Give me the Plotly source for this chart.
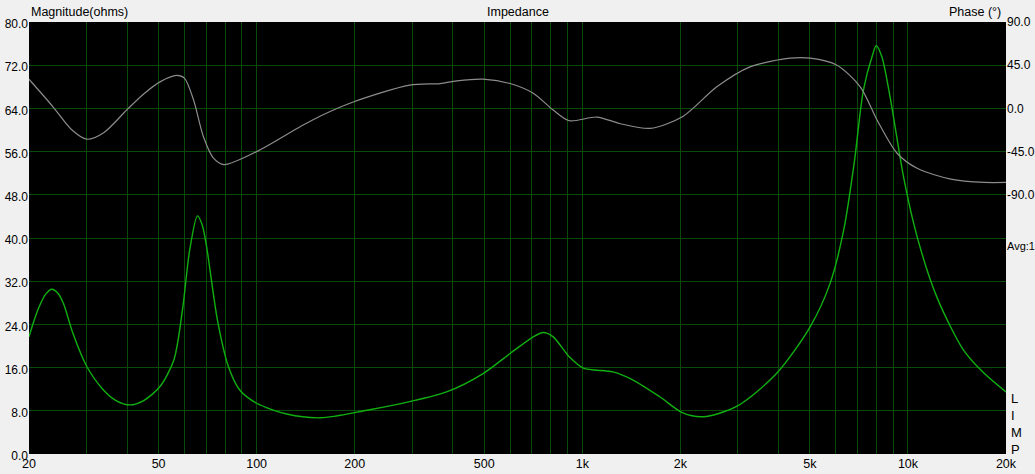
import plotly.graph_objects as go

# Magnitude (ohms) curve
mag_freq = [20, 20.6, 21.5, 22.5, 23.5, 24.5, 25.5, 27.3, 30.1, 33.8, 37, 40.8, 45, 50.5,
            55.7, 59.2, 62.3, 65.8, 68, 70.2, 75.8, 81.9, 88.6, 100, 123.8, 157, 218, 295,
            383, 496, 600, 707, 759, 814, 912, 1008, 1242, 1432, 1730, 2036, 2352, 2976,
            3948, 5012, 5766, 6350, 6834, 7298, 7784, 7990, 8310, 8808, 9736, 10672,
            12258, 14792, 17170, 20000]
mag_ohms = [21.7, 24.2, 27.3, 29.6, 30.5, 29.8, 27.9, 22.3, 16.2, 11.9, 9.9, 9.1, 9.9, 12.5,
            17.4, 26.7, 37.8, 44.1, 42.5, 38.4, 24.8, 16.2, 11.9, 9.4, 7.4, 6.7, 8.1, 9.7,
            11.5, 14.9, 18.6, 21.7, 22.5, 21.7, 18.0, 15.9, 15.2, 13.7, 10.6, 7.6, 6.9,
            8.8, 14.9, 23.6, 31.6, 41.5, 53.8, 67.4, 73.9, 75.6, 73.6, 66.2, 50.7, 40.2,
            29.1, 19.3, 14.9, 11.5]

# Phase (degrees) curve
phase_freq = [20, 23.7, 27, 30.1, 34, 39.9, 45, 50.5, 56.8, 60, 64, 68.6, 73.7, 79.5, 100,
              136, 157, 198, 295, 366, 412, 496, 600, 707, 814, 912, 1108, 1302, 1616,
              2036, 2588, 3274, 4350, 5012, 6054, 7138, 8028, 9256, 10672, 13550, 17170,
              20000]
phase_deg = [30.4, 1.7, -22.0, -32.1, -25.0, -1.7, 15.0, 27.6, 34.3, 31.5, 9.0, -29.2,
             -51.7, -58.5, -45.0, -19.1, -7.9, 6.7, 24.2, 25.9, 28.7, 30.4, 25.9, 15.8,
             -1.7, -12.9, -9.0, -15.7, -20.8, -8.4, 22.5, 43.3, 52.3, 52.3, 45.0, 22.5,
             -11.8, -46.7, -62.4, -73.7, -77.1, -77.1]

x_grid = [20, 30, 40, 50, 60, 70, 80, 90, 100, 200, 300, 400, 500, 600, 700, 800, 900,
          1000, 2000, 3000, 4000, 5000, 6000, 7000, 8000, 9000, 10000, 20000]
x_labels = {20: "20", 50: "50", 100: "100", 200: "200", 500: "500", 1000: "1k",
            2000: "2k", 5000: "5k", 10000: "10k", 20000: "20k"}
x_text = [x_labels.get(v, "") for v in x_grid]

y_ticks = [0, 8, 16, 24, 32, 40, 48, 56, 64, 72, 80]
phase_ticks = [-90, -45, 0, 45, 90]

FONT = "Liberation Sans, Arial, sans-serif"
GRID = "#0a4a0a"

fig = go.Figure()
fig.add_trace(go.Scatter(x=phase_freq, y=phase_deg, mode="lines", yaxis="y2",
                         line=dict(color="#8c8c8c", width=1.2, shape="spline", smoothing=0.8),
                         hoverinfo="skip", showlegend=False))
fig.add_trace(go.Scatter(x=mag_freq, y=mag_ohms, mode="lines",
                         line=dict(color="#10b010", width=1.4, shape="spline", smoothing=0.8),
                         hoverinfo="skip", showlegend=False))

fig.update_layout(
    template="none",
    width=1035, height=474,
    margin=dict(l=29, r=29, t=22, b=20, autoexpand=False),
    paper_bgcolor="#f0f0f0",
    plot_bgcolor="#000000",
    font=dict(family=FONT, size=12.5, color="#000000"),
    xaxis=dict(type="log", range=[1.30103, 4.30103], tickvals=x_grid, ticktext=x_text,
               showgrid=True, gridcolor=GRID, gridwidth=1, zeroline=False, automargin=False,
               ticks="", showline=False, tickfont=dict(size=12.5)),
    yaxis=dict(range=[0, 80], tickvals=y_ticks, ticktext=[f"{v:.1f}" for v in y_ticks],
               showgrid=True, gridcolor=GRID, gridwidth=1, zeroline=False, automargin=False,
               ticks="", showline=False, tickfont=dict(size=12), ticklabelshift=2),
    yaxis2=dict(range=[-360, 90], overlaying="y", side="right", tickvals=phase_ticks,
                ticktext=[f"{v:.1f}" for v in phase_ticks], showgrid=False, automargin=False,
                zeroline=False, ticks="", showline=False, tickfont=dict(size=12)),
    annotations=[
        dict(text="Magnitude(ohms)", xref="paper", yref="paper", x=0, y=1.023,
             xanchor="left", yanchor="middle", showarrow=False),
        dict(text="Impedance", xref="paper", yref="paper", x=0.5, y=1.023,
             xanchor="center", yanchor="middle", showarrow=False),
        dict(text="Phase (°)", xref="paper", yref="paper", x=0.997, y=1.023,
             xanchor="right", yanchor="middle", showarrow=False),
        dict(text="Avg:1", xref="paper", yref="paper", x=0.9985, y=0.481,
             xanchor="left", yanchor="middle", showarrow=False, font=dict(size=11)),
        dict(text="L<br>I<br>M<br>P", xref="paper", yref="paper", x=1.003, y=0.069,
             xanchor="left", yanchor="middle", showarrow=False, align="left",
             font=dict(size=13)),
    ],
)

fig.write_html("out.html", config={"displayModeBar": False},
               post_script="document.body.style.margin='0';document.body.style.padding='0';"
                           "document.body.style.overflow='hidden';")
